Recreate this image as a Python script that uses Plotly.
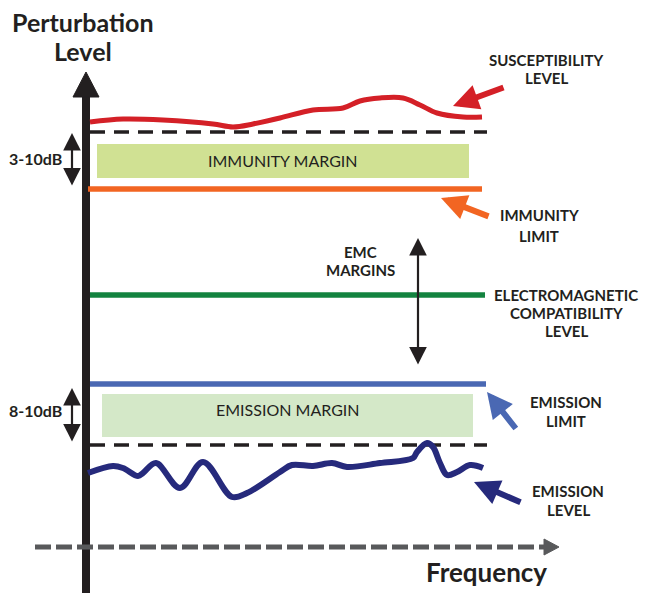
import plotly.graph_objects as go

# ---- data (diagram units: x = frequency position, y = level position, top = 0) ----
susc_x = [90, 123, 163, 213, 233, 253, 280, 313, 343, 360, 380, 403, 420, 437, 463, 482]
susc_y = [122, 119, 120, 124, 127, 124, 118, 110, 108, 101, 98, 98, 105, 113, 117, 117]

emis_x = [88, 113, 123, 138, 143, 156, 180, 203, 232, 247, 280, 292, 313, 332, 347, 380, 413, 417, 427, 433, 440, 447, 457, 470, 483]
emis_y = [473, 466, 468, 476, 473, 463, 488, 462, 497, 493, 472, 465, 466, 463, 467, 463, 458, 452, 443, 447, 463, 475, 472, 465, 468]

level_names = ["upper_dash", "immunity_limit", "emc_level", "emission_limit", "lower_dash"]
level_y = [132, 189, 295, 384, 445]
level_x0 = [90, 88, 90, 90, 90]
level_x1 = [487, 482, 485, 486, 487]

FONT = "Lato"
BLACK = "#231f20"

fig = go.Figure()

# margin boxes
fig.add_shape(type="rect", x0=97, x1=469, y0=144, y1=178, fillcolor="#d0e193", line_width=0, layer="below")
fig.add_shape(type="rect", x0=102, x1=473, y0=394, y1=437, fillcolor="#d4e8c8", line_width=0, layer="below")

# vertical axis
fig.add_trace(go.Scatter(x=[86, 86], y=[95, 593], mode="lines", line=dict(color=BLACK, width=8), hoverinfo="skip"))
fig.add_trace(go.Scatter(x=[73, 86, 99, 73], y=[97, 72, 97, 97], mode="lines", fill="toself",
                         fillcolor=BLACK, line=dict(color=BLACK, width=1), hoverinfo="skip"))
# horizontal axis
fig.add_trace(go.Scatter(x=[35, 546], y=[547, 547], mode="lines",
                         line=dict(color="#58595b", width=5, dash="16px,5px"), hoverinfo="skip"))
fig.add_trace(go.Scatter(x=[544, 559, 544, 544], y=[539, 547, 555, 539], mode="lines", fill="toself",
                         fillcolor="#58595b", line=dict(color="#58595b", width=1), hoverinfo="skip"))

# level lines
styles = {
    "upper_dash": dict(color=BLACK, width=3.5, dash="15px,9px"),
    "immunity_limit": dict(color="#f26522", width=5.5),
    "emc_level": dict(color="#13833f", width=5.5),
    "emission_limit": dict(color="#4a68b3", width=5.5),
    "lower_dash": dict(color=BLACK, width=3.5, dash="15px,9px"),
}
for n, y, a, b in zip(level_names, level_y, level_x0, level_x1):
    fig.add_trace(go.Scatter(x=[a, b], y=[y, y], mode="lines", line=styles[n], hoverinfo="skip"))

# curves
fig.add_trace(go.Scatter(x=susc_x, y=susc_y, mode="lines", line=dict(color="#d42027", width=5, shape="spline"), hoverinfo="skip"))
fig.add_trace(go.Scatter(x=emis_x, y=emis_y, mode="lines", line=dict(color="#262a7c", width=6, shape="spline"), hoverinfo="skip"))

# arrows
def arrow(tail, tip, color, width, head=2, size=0.9, both=False):
    fig.add_annotation(x=tip[0], y=tip[1], ax=tail[0], ay=tail[1], xref="x", yref="y", axref="x", ayref="y",
                       text="", showarrow=True, arrowhead=head, arrowsize=size, arrowwidth=width,
                       arrowcolor=color, arrowside="end+start" if both else "end",
                       startarrowhead=head, startarrowsize=size)

arrow((505, 87), (453, 106), "#d42027", 6, size=0.85)
arrow((490, 217), (441, 198), "#f26522", 6, size=0.85)
arrow((517, 430), (487, 392), "#4a68b3", 6, size=0.85)
arrow((522, 503), (474, 482), "#262a7c", 6, size=0.85)
arrow((72, 187), (72, 133), BLACK, 2.2, head=2, size=1.6, both=True)
arrow((72, 443), (72, 388), BLACK, 2.2, head=2, size=1.6, both=True)
arrow((418, 366), (418, 238), BLACK, 2.2, head=2, size=1.6, both=True)

# texts
def txt(x, y, s, size, bold=True, color=BLACK, align="center"):
    fig.add_annotation(x=x, y=y, xref="x", yref="y", text=s, showarrow=False, align=align,
                       font=dict(family=FONT, size=size, color=color, weight="bold" if bold else "normal"))

txt(83, 22, "Perturbation", 25)
txt(83, 51, "Level", 25)
txt(486, 572, "Frequency", 26)
txt(546, 60, "SUSCEPTIBILITY", 15)
txt(546, 78, "LEVEL", 15)
txt(35, 158, "3-10dB", 16)
txt(35, 410, "8-10dB", 16)
txt(283, 160, "IMMUNITY MARGIN", 16, bold=False)
txt(288, 409, "EMISSION MARGIN", 16, bold=False)
txt(539, 215, "IMMUNITY", 15)
txt(539, 236, "LIMIT", 15)
txt(360, 252, "EMC", 15)
txt(360, 270, "MARGINS", 15)
txt(566, 295, "ELECTROMAGNETIC", 15)
txt(566, 313, "COMPATIBILITY", 15)
txt(566, 331, "LEVEL", 15)
txt(566, 402, "EMISSION", 15)
txt(566, 421, "LIMIT", 15)
txt(568, 491, "EMISSION", 15)
txt(568, 510, "LEVEL", 15)

fig.update_layout(
    width=645, height=593, margin=dict(l=0, r=0, t=0, b=0),
    paper_bgcolor="white", plot_bgcolor="white", showlegend=False,
    xaxis=dict(range=[0, 645], visible=False, fixedrange=True),
    yaxis=dict(range=[593, 0], visible=False, fixedrange=True),
)
fig.write_html("out.html", config={"displayModeBar": False},
               post_script="document.body.style.margin='0';document.body.style.padding='0';")
